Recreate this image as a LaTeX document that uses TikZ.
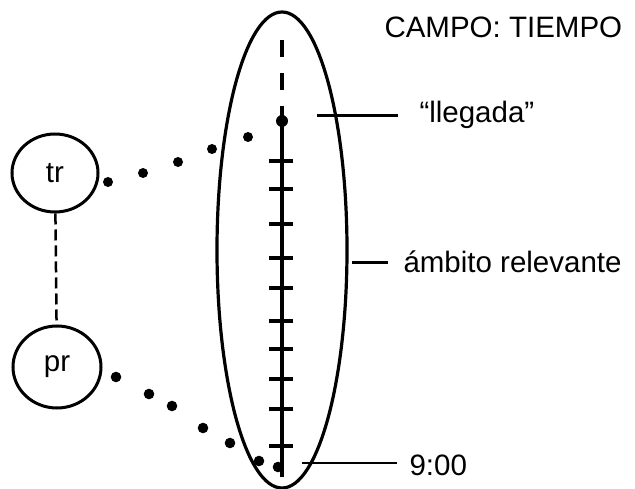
\documentclass[tikz,border=0pt]{standalone}
\usepackage{fontspec}
\setmainfont{Liberation Sans}
\usetikzlibrary{shapes.geometric}
\tikzset{
  every picture/.style={x=1pt, y=-1pt, line width=3pt},
  ent/.style={draw, ellipse, line width=3pt, inner sep=0pt, font=\fontsize{29.5}{34}\selectfont},
  lbl/.style={anchor=base west, inner sep=0pt, font=\fontsize{29.5}{34}\selectfont},
  lead/.style={line width=3pt},
  tickmk/.style={line width=4pt},
  dotmk/.style={fill=black},
}
\begin{document}
\begin{tikzpicture}
  \useasboundingbox (0,0) rectangle (635,489);
  % field
  \node[draw, ellipse, line width=3.2pt, minimum width=130pt, minimum height=476pt] (campo) at (282,250) {};
  \node[lbl] (titulo) at (383,38) {CAMPO: TIEMPO};
  % roles
  \node[ent, minimum width=86pt, minimum height=78pt] (tr) at (55,173) {tr};
  \node[ent, minimum width=88pt, minimum height=82pt] (pr) at (57,367) {pr};
  \draw[line width=2.5pt, dash pattern=on 11pt off 5pt] (tr) -- (pr);
  % time axis
  \coordinate (cima) at (282,40);
  \coordinate (lleg) at (282,121);
  \coordinate (base) at (282,477);
  \draw[line width=4pt, dash pattern=on 17pt off 16pt] (cima) -- (lleg);
  \draw[line width=4.5pt] (lleg) -- (base);
  \fill[dotmk] (lleg) circle (6pt);
  \foreach \y in {161,189,224,258,288,321,349,379,409,446}
    \draw[tickmk] (269,\y) -- (293,\y);
  % dotted links
  \foreach \p in {(108,182),(143,173),(178,162),(212,149),(248,137)}
    \fill[dotmk] \p circle (5pt);
  \foreach \p in {(116,377),(149,394),(172,406),(203,428),(230,443),(259,461),(278,467)}
    \fill[dotmk] \p circle (5.3pt);
  % labels
  \node[lbl] (llegada) at (418,123) {“llegada”};
  \coordinate (p1) at (317,116);
  \draw[lead, shorten >=20pt] (p1) -- (p1 -| llegada.west);
  \node[lbl] (ambito) at (402,273) {ámbito relevante};
  \coordinate (p2) at (352,263);
  \draw[lead, shorten >=14pt] (p2) -- (p2 -| ambito.west);
  \node[lbl] (hora) at (408,475) {9:00};
  \coordinate (p3) at (302,463);
  \draw[lead, line width=2.5pt, shorten >=11pt] (p3) -- (p3 -| hora.west);
\end{tikzpicture}
\end{document}
